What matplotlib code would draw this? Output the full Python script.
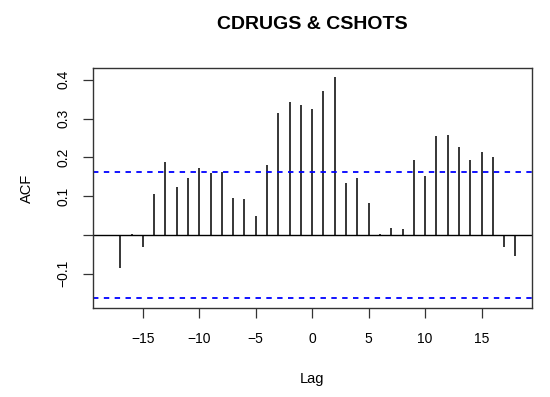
import matplotlib
matplotlib.use('Agg')
import matplotlib.pyplot as plt

# cross-correlation values
lags = list(range(-18, 19))
acf = [-0.003, -0.086, 0.003, -0.030, 0.106, 0.187, 0.123, 0.148, 0.172, 0.161,
       0.162, 0.096, 0.094, 0.049, 0.180, 0.314, 0.342, 0.335, 0.324, 0.371,
       0.408, 0.133, 0.147, 0.083, 0.002, 0.018, 0.015, 0.194, 0.153, 0.255,
       0.258, 0.228, 0.194, 0.215, 0.200, -0.032, -0.055]
clim = 0.163
xticks = [-15, -10, -5, 0, 5, 10, 15]
yticks = [-0.1, 0.0, 0.1, 0.2, 0.3, 0.4]
ytick_labels = ['\u22120.1', '', '0.1', '0.2', '0.3', '0.4']

plt.rcParams['font.family'] = ['Liberation Sans', 'DejaVu Sans']

fig = plt.figure(figsize=(5.5, 3.97), dpi=100)
ax = fig.add_axes([0.1685, 0.2234, 0.7982, 0.6046])

ax.vlines(lags, 0, acf, color='black', linewidth=1.1)
ax.axhline(0, color='black', linewidth=1.0)
ax.axhline(clim, color='#0000ff', linestyle=(0, (3, 3)), linewidth=1.3)
ax.axhline(-clim, color='#0000ff', linestyle=(0, (3, 3)), linewidth=1.3)

ax.set_xlim(-19.44, 19.44)
ax.set_ylim(-0.189, 0.4296)
ax.set_xticks(xticks)
ax.set_xticklabels([str(t).replace('-', '\u2212') for t in xticks])
ax.set_yticks(yticks)
ax.set_yticklabels(ytick_labels, rotation=90, va='center')

ax.tick_params(axis='both', length=7, width=0.9, labelsize=10, color='#333333')
ax.tick_params(axis='x', pad=10)
ax.tick_params(axis='y', pad=9)
for s in ax.spines.values():
    s.set_linewidth(1.0)
    s.set_color('#333333')

ax.set_xlabel('Lag', fontsize=10.5, labelpad=19)
ax.set_ylabel('ACF', fontsize=10.5, labelpad=16)
ax.set_title('CDRUGS & CSHOTS', fontsize=14, fontweight='bold', pad=28)

fig.savefig('out.png', dpi=100)
plt.close(fig)
